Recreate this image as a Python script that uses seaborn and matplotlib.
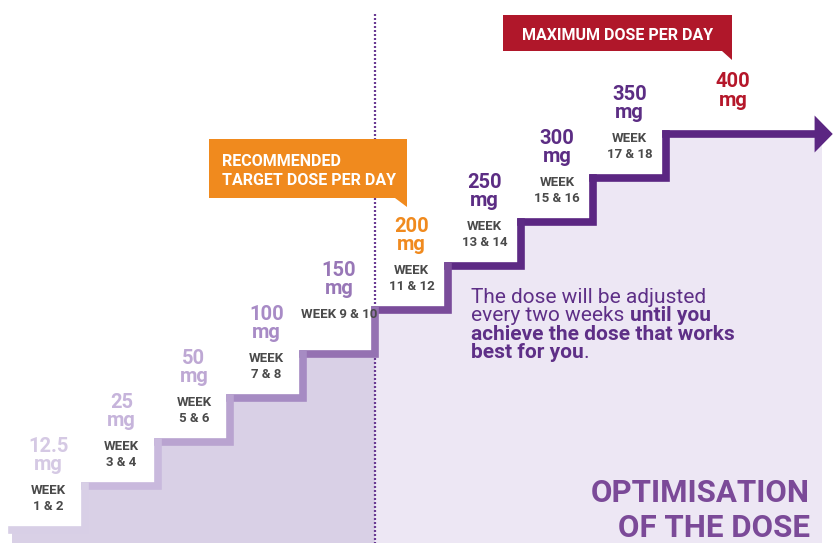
import numpy as np
import pandas as pd
import matplotlib.pyplot as plt
import seaborn as sns
from matplotlib.patches import Polygon

# one stair step per dose, two weeks per step
doses = ["12.5", "25", "50", "100", "150", "200", "250", "300", "350", "400"]
weeks = ["WEEK\n1 & 2", "WEEK\n3 & 4", "WEEK\n5 & 6", "WEEK\n7 & 8", "WEEK 9 & 10",
         "WEEK\n11 & 12", "WEEK\n13 & 14", "WEEK\n15 & 16", "WEEK\n17 & 18", ""]
step_colors = ["#d8cfe6", "#c9b9dd", "#b9a3d0", "#a68bc3", "#9572b2",
               "#7a4c9a", "#5d2a84", "#5b2682", "#5b2682", "#5b2682"]
label_colors = ["#d5c9e4", "#c6b4db", "#bea8d4", "#a88bc6", "#9877b7",
                "#f08a1e", "#5c2d84", "#5c2d84", "#5c2d84", "#b5172a"]
target_step = 5  # recommended target dose (200 mg)
max_step = 9     # maximum dose (400 mg)

W, H = 840, 543
sns.set_theme(style="white")
plt.rcParams['font.family'] = ['Roboto', 'DejaVu Sans']

fig = plt.figure(figsize=(W / 100, H / 100), dpi=100)
ax = fig.add_axes([0, 0, 1, 1])
ax.set_axis_off()
ax.set_xlim(-0.171, 11.40)
ax.set_ylim(-0.295, 12.045)

n = len(doses)
levels = np.arange(n)
last_end = 11.05

# each step = its tread plus the riser up to the next one
rows = []
for i in levels:
    if i < n - 1:
        pts = [(i, i), (i + 1, i), (i + 1, i + 1)]
    else:
        pts = [(i, i), (last_end, i)]
    for x, y in pts:
        rows.append({"step": doses[i], "x": x, "y": y})
stairs = pd.DataFrame(rows)

# shaded areas under the stairs
ax.fill_between(levels[:target_step + 1], -1, levels[:target_step + 1], step='post',
                color='#d9d0e6', lw=0, zorder=1)
rx = list(levels[target_step:]) + [11.15]
ry = list(levels[target_step:]) + [levels[-1]]
ax.fill_between(rx, -1, ry, step='post', color='#ede7f4', lw=0, zorder=1)

# dotted marker at the target dose
ax.plot([target_step, target_step], [-1, 11.73], color='#6a3a93', lw=1.6,
        ls=(0, (0.9, 0.9)), zorder=2)

sns.lineplot(data=stairs, x='x', y='y', hue='step', hue_order=doses[::-1],
             palette=dict(zip(doses, step_colors)), estimator=None, sort=False,
             lw=5.5, legend=False, solid_capstyle='projecting',
             solid_joinstyle='miter', zorder=3, ax=ax)
ax.add_patch(Polygon([(last_end, max_step + 0.42), (11.30, max_step),
                      (last_end, max_step - 0.42)], closed=True,
                     color=step_colors[-1], lw=0, zorder=3))

# dose and week labels above every step
PX = 0.72  # points per pixel
for i, (dose, wk, col) in enumerate(zip(doses, weeks, label_colors)):
    top = i == n - 1
    xc = i + (0.93 if top else 0.5)
    off_num, off_mg = (47, 28) if top else (78, 60)
    kw = dict(textcoords='offset points', ha='center', va='baseline')
    ax.annotate(dose, (xc, i), xytext=(0, off_num * PX), fontsize=14.5,
                fontweight='bold', color=col, **kw)
    ax.annotate("mg", (xc, i), xytext=(0, off_mg * PX), fontsize=14.5,
                fontweight='bold', color=col, **kw)
    parts = wk.split("\n")
    for txt, off in zip(parts, [36, 20]):
        if txt:
            ax.annotate(txt, (xc, i), xytext=(0, off * PX), fontsize=9.5,
                        fontweight='bold', color='#4a4a4a', **kw)


def fxy(xp, yp):
    return xp / W, 1 - yp / H


# callout boxes
orange = '#f08a1e'
fig.patches.append(Polygon([fxy(209, 139), fxy(407, 139), fxy(407, 207), fxy(395, 198),
                            fxy(209, 198)], closed=True, color=orange, lw=0,
                           transform=fig.transFigure, zorder=4))
fig.text(*fxy(222, 166), "RECOMMENDED", color='white', fontsize=11.5,
         fontweight='bold', va='baseline', zorder=5)
fig.text(*fxy(222, 185), "TARGET DOSE PER DAY", color='white', fontsize=11.5,
         fontweight='bold', va='baseline', zorder=5)

red = '#b0172a'
fig.patches.append(Polygon([fxy(503, 15), fxy(732, 15), fxy(732, 60), fxy(722, 51),
                            fxy(503, 51)], closed=True, color=red, lw=0,
                           transform=fig.transFigure, zorder=4))
fig.text(*fxy(618, 40), "MAXIMUM DOSE PER DAY", color='white', fontsize=11.5,
         fontweight='bold', ha='center', va='baseline', zorder=5)

# explanation text, mixed weights
body = '#5e2f87'
bs = 15
fig.text(*fxy(471, 303), "The dose will be adjusted", color=body, fontsize=bs,
         va='baseline')
t2 = fig.text(*fxy(471, 321), "every two weeks", color=body, fontsize=bs,
              va='baseline')
ax.annotate("until you", xy=(1, 0), xycoords=t2, xytext=(3.8, 0),
            textcoords='offset points', va='bottom', color=body, fontsize=bs,
            fontweight='bold', annotation_clip=False)
fig.text(*fxy(471, 340), "achieve the dose that works", color=body, fontsize=bs,
         fontweight='bold', va='baseline')
t4 = fig.text(*fxy(471, 358), "best for you", color=body, fontsize=bs,
              fontweight='bold', va='baseline')
ax.annotate(".", xy=(1, 0), xycoords=t4, va='bottom', color=body, fontsize=bs,
            annotation_clip=False)

fig.text(*fxy(810, 502), "OPTIMISATION", color='#7b4a98', fontsize=22.5,
         fontweight='bold', ha='right', va='baseline')
fig.text(*fxy(810, 537), "OF THE DOSE", color='#7b4a98', fontsize=22.5,
         fontweight='bold', ha='right', va='baseline')

fig.savefig("out.png", dpi=100)
